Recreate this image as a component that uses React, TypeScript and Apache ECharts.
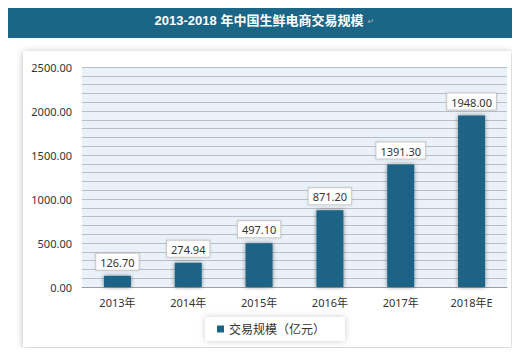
import React, { useEffect, useRef } from "react";
import * as echarts from "echarts";

const categories = ["2013年", "2014年", "2015年", "2016年", "2017年", "2018年E"];
const values = [126.7, 274.94, 497.1, 871.2, 1391.3, 1948.0];
const seriesName = "交易规模（亿元）";
const titleText = "2013-2018 年中国生鲜电商交易规模";

const FONT = "'Noto Sans', 'Noto Sans CJK SC', sans-serif";

export default function App() {
  const ref = useRef<HTMLDivElement>(null);
  useEffect(() => {
    if (!ref.current) return;
    const chart = echarts.init(ref.current, undefined, { renderer: "svg" });
    chart.setOption({
      animation: false,
      backgroundColor: "#ffffff",
      textStyle: { fontFamily: FONT },
      graphic: {
        elements: [
          {
            type: "rect",
            z: -10,
            shape: { x: 3, y: 2, width: 517, height: 36 },
            style: { fill: "#1b6687" },
          },
          {
            type: "text",
            z: 10,
            x: 259,
            y: 20,
            style: {
              text: titleText,
              fill: "#ffffff",
              font: "bold 13px 'Liberation Sans', 'Noto Sans CJK SC', sans-serif",
              textAlign: "center",
              textVerticalAlign: "middle",
            },
          },
          {
            type: "text",
            z: 10,
            x: 371,
            y: 21,
            style: {
              text: "↵",
              fill: "#9fb3c0",
              font: "8px 'DejaVu Sans', sans-serif",
              textAlign: "center",
              textVerticalAlign: "middle",
            },
          },
          {
            type: "rect",
            z: -10,
            shape: { x: 23, y: 51, width: 488, height: 296 },
            style: {
              fill: "#ffffff",
              shadowBlur: 7,
              shadowColor: "rgba(0,0,0,0.28)",
              shadowOffsetX: 0,
              shadowOffsetY: 1,
            },
          },
        ],
      },
      grid: {
        left: 82,
        right: 13,
        top: 67,
        bottom: 69,
        show: true,
        backgroundColor: "#eaf1f8",
        borderWidth: 0,
      },
      legend: {
        left: 205,
        top: 317,
        data: [seriesName],
        icon: "rect",
        itemWidth: 7,
        itemHeight: 7,
        itemGap: 6,
        backgroundColor: "#ffffff",
        shadowBlur: 6,
        shadowColor: "rgba(0,0,0,0.2)",
        padding: [6, 20, 6, 12],
        textStyle: { fontSize: 12, color: "#333", fontFamily: FONT },
      },
      xAxis: {
        type: "category",
        data: categories,
        axisTick: { show: false },
        axisLine: { show: true, lineStyle: { color: "#9aa0a6", width: 1 } },
        axisLabel: { color: "#333", fontSize: 11, margin: 10, fontFamily: FONT },
      },
      yAxis: {
        type: "value",
        min: 0,
        max: 2500,
        interval: 500,
        axisLine: { show: false },
        axisTick: { show: false },
        axisLabel: {
          color: "#333",
          fontSize: 11,
          margin: 10,
          fontFamily: FONT,
          formatter: (v: number) => v.toFixed(2),
        },
        splitLine: { show: true, lineStyle: { color: "#b9bfc6", width: 1 } },
        minorTick: { show: false, splitNumber: 5 },
        minorSplitLine: { show: true, lineStyle: { color: "#b9bfc6", width: 1 } },
      },
      series: [
        {
          name: seriesName,
          type: "bar",
          data: values,
          barWidth: 27,
          itemStyle: {
            color: "#1b6385",
            shadowBlur: 4,
            shadowColor: "rgba(0,0,0,0.45)",
            shadowOffsetX: 0,
            shadowOffsetY: 0,
          },
          label: {
            show: true,
            position: "top",
            distance: 6,
            formatter: (p: any) => Number(p.value).toFixed(2),
            color: "#333",
            fontSize: 11,
            fontFamily: FONT,
            backgroundColor: "#ffffff",
            borderColor: "#c8c8c8",
            borderWidth: 1,
            padding: [3, 4, 2, 4],
            shadowBlur: 2,
            shadowColor: "rgba(0,0,0,0.15)",
          },
        },
      ],
    });
    return () => chart.dispose();
  }, []);
  return <div ref={ref} style={{ width: 520, height: 356, margin: -8 }} />;
}
